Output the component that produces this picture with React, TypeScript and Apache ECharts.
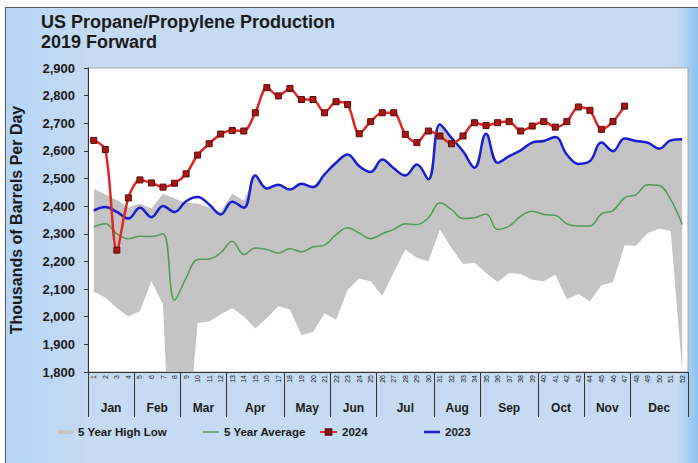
import React, { useEffect, useRef } from "react";
import * as echarts from "echarts";

const weekLabels = [
  "1", "2", "3", "4", "5", "6", "7", "8", "9", "10", "11", "12", "13",
  "14", "15", "16", "17", "18", "19", "20", "21", "22", "23", "24", "25", "26",
  "27", "28", "29", "30", "31", "32", "33", "34", "35", "36", "37", "38", "39",
  "40", "41", "42", "43", "44", "45", "46", "47", "48", "49", "50", "51", "52",
];

const monthNames = ["Jan", "Feb", "Mar", "Apr", "May", "Jun", "Jul", "Aug", "Sep", "Oct", "Nov", "Dec"];
const monthWeeks = [4, 4, 4, 5, 4, 4, 5, 4, 5, 4, 4, 5];

const fiveYearLow = [
  2090, 2070, 2032, 2001, 2020, 2128, 2044, 1100, 1500, 1977, 1983, 2008, 2032, 2001,
  1957, 1995, 2038, 2026, 1933, 1945, 2013, 1989, 2098, 2138, 2128, 2075,
  2160, 2243, 2213, 2201, 2316, 2249, 2191, 2195, 2158, 2126, 2158, 2155, 2134,
  2128, 2152, 2062, 2082, 2056, 2114, 2126, 2259, 2257, 2303, 2318, 2310, 1802,
];

const fiveYearHigh = [
  2463, 2442, 2422, 2395, 2410, 2392, 2445, 2428, 2412, 2410, 2395, 2380, 2445, 2420,
  2511, 2464, 2478, 2460, 2481, 2469, 2515, 2557, 2587, 2545, 2524, 2569,
  2537, 2511, 2551, 2497, 2696, 2647, 2599, 2539, 2662, 2557, 2581, 2602, 2630,
  2636, 2650, 2587, 2553, 2563, 2630, 2599, 2645, 2636, 2630, 2608, 2638, 2642,
];

const fiveYearAverage = [
  2325, 2336, 2300, 2282, 2291, 2290, 2300, 2060, 2140, 2207, 2209, 2231, 2273,
  2225, 2249, 2243, 2231, 2246, 2235, 2253, 2259, 2297, 2322, 2303, 2282, 2300,
  2316, 2336, 2334, 2358, 2412, 2388, 2355, 2358, 2372, 2316, 2328, 2364, 2382,
  2370, 2367, 2336, 2328, 2328, 2372, 2384, 2430, 2442, 2478, 2475, 2424, 2334,
];

const year2024 = [
  2638, 2605, 2241, 2430, 2495, 2484, 2469, 2483, 2517, 2585,
  2626, 2661, 2674, 2672, 2738, 2829, 2799, 2826, 2786, 2786,
  2738, 2778, 2768, 2662, 2706, 2738, 2738, 2660, 2630, 2672,
  2654, 2626, 2654, 2702, 2692, 2702, 2706, 2672, 2690, 2706,
  2686, 2706, 2759, 2747, 2678, 2706, 2762,
];

const year2023 = [
  2384, 2397, 2379, 2355, 2394, 2360, 2401, 2379, 2418, 2433, 2406, 2370, 2416, 2394,
  2511, 2464, 2478, 2460, 2481, 2469, 2515, 2557, 2587, 2545, 2524, 2569,
  2537, 2511, 2551, 2497, 2696, 2647, 2599, 2539, 2662, 2557, 2581, 2602, 2630,
  2636, 2650, 2587, 2553, 2563, 2630, 2599, 2645, 2636, 2630, 2608, 2638, 2642,
];

const FONT = "'Liberation Sans', Arial, sans-serif";

export default function App() {
  const ref = useRef<HTMLDivElement>(null);

  useEffect(() => {
    if (!ref.current) return;
    const chart = echarts.init(ref.current, null, { renderer: "svg" });

    // half-week slots for the month axis
    const boundaries = new Set<number>([0]);
    const centers = new Map<number, string>();
    let pos = 0;
    monthWeeks.forEach((w, i) => {
      centers.set(pos + w, monthNames[i]);
      pos += 2 * w;
      boundaries.add(pos);
    });
    const halfSlots: string[] = [];
    for (let k = 0; k <= pos; k++) halfSlots.push(String(k));

    const bandDiff = fiveYearHigh.map((h, i) => h - fiveYearLow[i]);
    const fmt = (v: number) => String(v).replace(/\B(?=(\d{3})+(?!\d))/g, ",");

    const legendText = { fontSize: 11.5, fontWeight: "bold", color: "#1a1a1a", fontFamily: FONT };

    chart.setOption({
      animation: false,
      title: {
        text: "US Propane/Propylene Production\n2019 Forward",
        left: 35,
        top: 4,
        padding: 0,
        textStyle: { fontSize: 18, fontWeight: "bold", color: "#1a1a1a", lineHeight: 20, fontFamily: FONT },
      },
      legend: [
        {
          data: [{ name: "5 Year High Low", icon: "rect" }],
          left: 52, top: 418, itemWidth: 15, itemHeight: 4, padding: 0,
          textStyle: legendText, selectedMode: false,
        },
        {
          data: [{ name: "5 Year Average", icon: "rect" }],
          left: 197, top: 418, itemWidth: 16, itemHeight: 1.5, padding: 0,
          textStyle: legendText, selectedMode: false,
        },
        {
          data: ["2024"],
          left: 313, top: 418, itemWidth: 17, itemHeight: 7, padding: 0,
          textStyle: legendText, selectedMode: false,
        },
        {
          data: [{ name: "2023", icon: "rect" }],
          left: 418, top: 418, itemWidth: 16, itemHeight: 2.5, padding: 0,
          textStyle: legendText, selectedMode: false,
        },
      ],
      grid: {
        left: 82, top: 60, width: 600, height: 304,
        containLabel: false,
        outerBoundsMode: "none",
        show: true, backgroundColor: "#ffffff", borderColor: "#a8a8a8", borderWidth: 1,
      },
      xAxis: [
        {
          type: "category",
          data: weekLabels,
          boundaryGap: true,
          axisLine: { lineStyle: { color: "#333", width: 1 } },
          axisTick: { interval: 0, length: 12, lineStyle: { color: "#333" } },
          axisLabel: { interval: 0, rotate: 90, fontSize: 7, margin: 3, color: "#222", fontFamily: FONT },
          splitLine: { show: false },
        },
        {
          type: "category",
          data: halfSlots,
          boundaryGap: false,
          position: "bottom",
          axisLine: { show: false },
          axisTick: {
            interval: (index: number) => boundaries.has(index),
            length: 45,
            lineStyle: { color: "#333" },
          },
          axisLabel: {
            interval: (index: number) => centers.has(index),
            formatter: (v: string) => centers.get(Number(v)) ?? "",
            fontSize: 12,
            fontWeight: "bold",
            margin: 30,
            color: "#1a1a1a",
            fontFamily: FONT,
          },
          splitLine: { show: false },
        },
      ],
      yAxis: {
        type: "value",
        min: 1800,
        max: 2900,
        interval: 100,
        name: "Thousands of Barrels Per Day",
        nameLocation: "middle",
        nameRotate: 90,
        nameGap: 64,
        nameTextStyle: { fontSize: 16, fontWeight: "bold", color: "#1a1a1a", fontFamily: FONT },
        axisLine: { show: true, lineStyle: { color: "#333", width: 1 } },
        axisTick: { show: true, length: 4, lineStyle: { color: "#333" } },
        axisLabel: { formatter: fmt, fontSize: 13, fontWeight: "bold", margin: 13, color: "#1a1a1a", fontFamily: FONT },
        splitLine: { show: false },
      },
      series: [
        {
          name: "low-base",
          type: "line",
          stack: "band",
          data: fiveYearLow,
          symbol: "none",
          lineStyle: { opacity: 0, width: 0 },
          itemStyle: { color: "transparent" },
          silent: true,
          z: 1,
        },
        {
          name: "5 Year High Low",
          type: "line",
          stack: "band",
          data: bandDiff,
          symbol: "none",
          lineStyle: { width: 0, opacity: 0 },
          itemStyle: { color: "#c6c6c6" },
          areaStyle: { color: "#c4c4c4", opacity: 1 },
          silent: true,
          z: 1,
        },
        {
          name: "5 Year Average",
          type: "line",
          data: fiveYearAverage,
          symbol: "none",
          smooth: 0.4,
          lineStyle: { color: "#4f9a55", width: 1.5 },
          itemStyle: { color: "#4f9a55" },
          z: 3,
        },
        {
          name: "2023",
          type: "line",
          data: year2023,
          symbol: "none",
          smooth: 0.4,
          lineStyle: { color: "#1c1cd0", width: 2.5 },
          itemStyle: { color: "#1c1cd0" },
          z: 4,
        },
        {
          name: "2024",
          type: "line",
          data: year2024,
          symbol: "rect",
          symbolSize: 6,
          smooth: 0.3,
          lineStyle: { color: "#e02626", width: 2.5 },
          itemStyle: { color: "#a81616", borderColor: "#5a0a0a", borderWidth: 1 },
          z: 5,
        },
      ],
    });

    return () => chart.dispose();
  }, []);

  return (
    <div
      style={{
        position: "absolute",
        left: 5,
        top: 7,
        width: 693,
        height: 456,
        borderTop: "1px solid #5a5a5a",
        borderLeft: "1px solid #5a5a5a",
        background: "linear-gradient(90deg, #b6d5f7 0%, #c6daf1 12%, #c6daf1 97%, #8cc2f2 100%)",
        boxSizing: "border-box",
      }}
    >
      <div ref={ref} style={{ width: "100%", height: "100%" }} />
    </div>
  );
}
